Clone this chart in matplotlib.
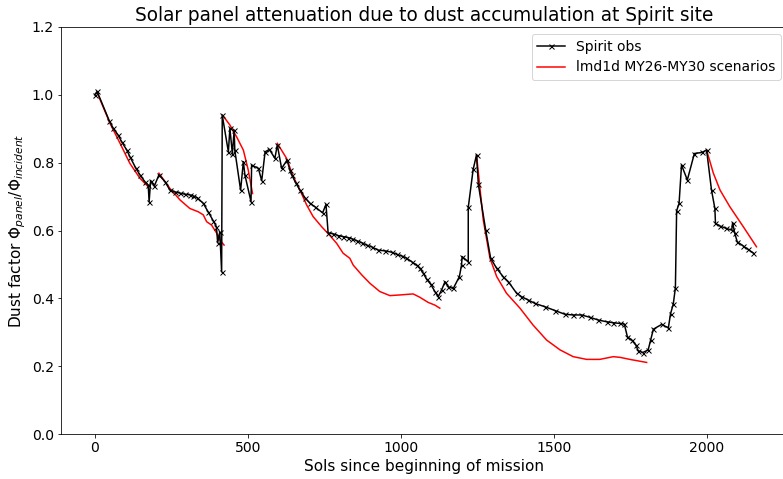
import matplotlib
matplotlib.use("Agg")
import matplotlib.pyplot as plt
import numpy as np

obs_sol = [0, 8, 48, 61, 77, 88, 105, 115, 135, 148, 164, 175, 178, 183, 195, 210, 230, 246,
           262, 279, 295, 311, 322, 335, 355, 371, 388, 398, 402, 409, 415, 417, 437, 442,
           450, 456, 458, 477, 486, 491, 511, 513, 535, 546, 557, 571, 589, 597, 611, 629,
           638, 644, 658, 671, 687, 704, 720, 745, 756, 763, 780, 796, 812, 829, 840, 856,
           873, 889, 905, 927, 949, 971, 987, 1003, 1017, 1036, 1052, 1063, 1074, 1085, 1098,
           1112, 1123, 1134, 1145, 1156, 1172, 1192, 1199, 1201, 1221, 1221, 1237, 1248, 1254,
           1278, 1294, 1314, 1335, 1352, 1379, 1395, 1417, 1439, 1472, 1504, 1537, 1564, 1591,
           1619, 1646, 1673, 1695, 1717, 1731, 1741, 1755, 1769, 1776, 1791, 1809, 1817, 1826,
           1853, 1875, 1882, 1891, 1898, 1902, 1910, 1918, 1937, 1960, 1984, 2000, 2016, 2027,
           2029, 2044, 2065, 2082, 2085, 2092, 2100, 2120, 2136, 2152]
obs_val = [1.0, 1.01, 0.923, 0.901, 0.881, 0.862, 0.837, 0.818, 0.783, 0.764, 0.744, 0.734, 0.685,
           0.747, 0.731, 0.764, 0.744, 0.719, 0.714, 0.710, 0.707, 0.705, 0.702, 0.697, 0.680,
           0.655, 0.628, 0.611, 0.564, 0.596, 0.478, 0.940, 0.832, 0.901, 0.827, 0.896, 0.837,
           0.719, 0.803, 0.764, 0.685, 0.793, 0.783, 0.747, 0.832, 0.839, 0.813, 0.852, 0.783,
           0.808, 0.778, 0.764, 0.739, 0.719, 0.697, 0.680, 0.670, 0.652, 0.677, 0.593, 0.590,
           0.585, 0.582, 0.579, 0.576, 0.570, 0.564, 0.557, 0.552, 0.542, 0.540, 0.536, 0.530,
           0.525, 0.520, 0.508, 0.498, 0.488, 0.474, 0.456, 0.442, 0.420, 0.405, 0.425, 0.449,
           0.434, 0.429, 0.464, 0.498, 0.523, 0.508, 0.668, 0.780, 0.823, 0.736, 0.601, 0.519,
           0.488, 0.464, 0.449, 0.415, 0.405, 0.395, 0.385, 0.375, 0.364, 0.353, 0.351, 0.351,
           0.344, 0.336, 0.331, 0.328, 0.326, 0.324, 0.287, 0.277, 0.262, 0.246, 0.240, 0.248,
           0.277, 0.309, 0.323, 0.313, 0.354, 0.383, 0.431, 0.658, 0.680, 0.793, 0.749, 0.827,
           0.830, 0.837, 0.719, 0.665, 0.621, 0.613, 0.606, 0.601, 0.623, 0.592, 0.567, 0.554,
           0.544, 0.534]

model1_sol = [8, 50, 83, 115, 148, 175]
model1_val = [1.007, 0.916, 0.857, 0.798, 0.754, 0.729]
model2_sol = [210, 246, 279, 311, 339, 355, 366, 382, 399, 409, 423]
model2_val = [0.769, 0.724, 0.690, 0.665, 0.655, 0.646, 0.626, 0.616, 0.592, 0.572, 0.557]
model3_sol = [418, 442, 464, 486, 502, 516]
model3_val = [0.940, 0.911, 0.876, 0.837, 0.778, 0.709]
model4_sol = [597, 627, 649, 671, 693, 714, 742, 769, 791, 812, 834, 845, 873, 900, 932, 965,
              998, 1041, 1063, 1090, 1112, 1128]
model4_val = [0.857, 0.813, 0.759, 0.719, 0.675, 0.641, 0.611, 0.585, 0.562, 0.533, 0.518,
              0.498, 0.469, 0.444, 0.420, 0.408, 0.410, 0.413, 0.403, 0.388, 0.380, 0.371]
model5_sol = [1248, 1270, 1292, 1314, 1346, 1390, 1433, 1477, 1521, 1564, 1608, 1651, 1695,
              1717, 1749, 1804]
model5_val = [0.823, 0.631, 0.518, 0.464, 0.415, 0.371, 0.321, 0.277, 0.248, 0.228, 0.220,
              0.220, 0.228, 0.226, 0.220, 0.211]
model6_sol = [2000, 2022, 2044, 2076, 2120, 2163]
model6_val = [0.837, 0.769, 0.719, 0.670, 0.611, 0.552]

DPI = 72
fig = plt.figure(figsize=(783 / DPI, 479 / DPI), dpi=DPI)
ax = fig.add_axes([61 / 783, 45 / 479, 727 / 783, 407 / 479])

ax.plot(obs_sol, obs_val, color="black", marker="x", markersize=5, markeredgewidth=1.0,
        linewidth=1.5, label="Spirit obs", zorder=3)
segs = [(model1_sol, model1_val), (model2_sol, model2_val), (model3_sol, model3_val),
        (model4_sol, model4_val), (model5_sol, model5_val), (model6_sol, model6_val)]
for i, (s, v) in enumerate(segs):
    ax.plot(s, v, color="red", linewidth=1.5,
            label="lmd1d MY26-MY30 scenarios" if i == 0 else None, zorder=2)

ax.set_xlim(-110, 2266)
ax.set_ylim(0, 1.2)
ax.set_xticks([0, 500, 1000, 1500, 2000])
ax.set_yticks([0.0, 0.2, 0.4, 0.6, 0.8, 1.0, 1.2])
ax.tick_params(labelsize=14)
ax.set_title("Solar panel attenuation due to dust accumulation at Spirit site", fontsize=18.5)
ax.set_xlabel("Sols since beginning of mission", fontsize=15.3)
ax.set_ylabel(r"Dust factor $\Phi_{panel}/\Phi_{incident}$", fontsize=15.3)
ax.legend(loc="upper right", fontsize=13.9)

fig.savefig("out.png", dpi=DPI)
